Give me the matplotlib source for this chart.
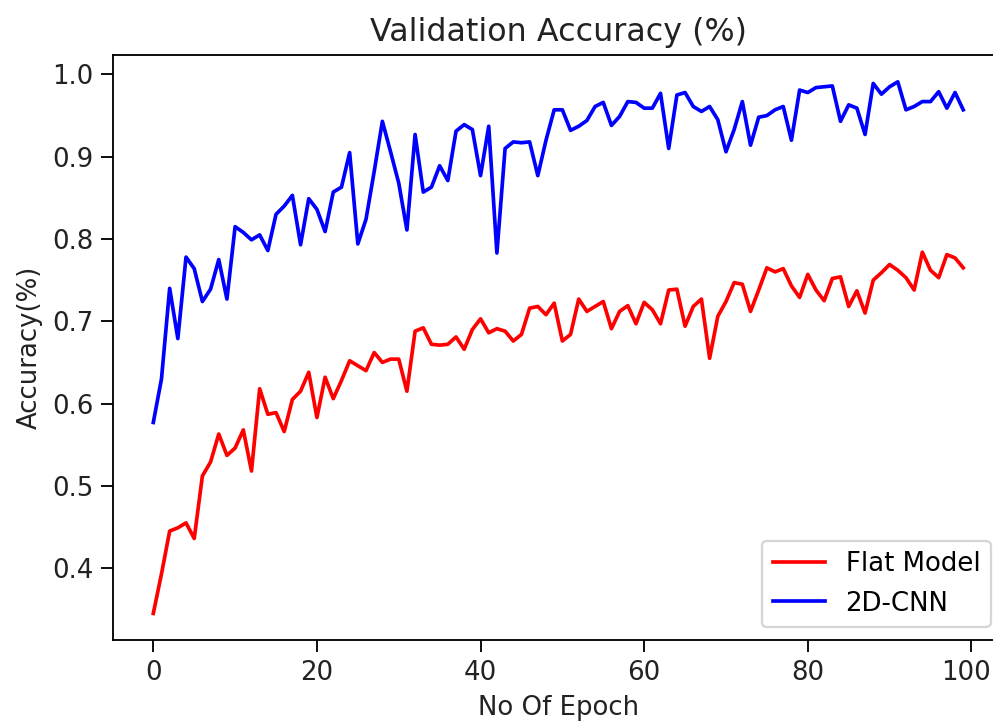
import numpy as np
import matplotlib
matplotlib.use("Agg")
import matplotlib.pyplot as plt
from matplotlib.transforms import ScaledTranslation

# validation accuracy per epoch
flat_acc = [0.345, 0.393, 0.445, 0.449, 0.455, 0.436, 0.512, 0.529, 0.563, 0.537,
            0.546, 0.568, 0.518, 0.618, 0.587, 0.589, 0.566, 0.605, 0.615, 0.638,
            0.583, 0.632, 0.606, 0.628, 0.652, 0.646, 0.640, 0.662, 0.650, 0.654,
            0.654, 0.615, 0.688, 0.692, 0.672, 0.671, 0.672, 0.681, 0.666, 0.690,
            0.703, 0.686, 0.691, 0.688, 0.676, 0.684, 0.716, 0.718, 0.708, 0.722,
            0.676, 0.684, 0.727, 0.712, 0.718, 0.724, 0.691, 0.712, 0.719, 0.697,
            0.723, 0.714, 0.697, 0.738, 0.739, 0.694, 0.718, 0.727, 0.655, 0.706,
            0.724, 0.747, 0.745, 0.712, 0.738, 0.765, 0.760, 0.764, 0.743, 0.729,
            0.757, 0.738, 0.725, 0.752, 0.754, 0.718, 0.737, 0.710, 0.750, 0.759,
            0.769, 0.762, 0.753, 0.738, 0.784, 0.762, 0.753, 0.781, 0.777, 0.765]

cnn_acc = [0.577, 0.630, 0.740, 0.679, 0.778, 0.764, 0.724, 0.739, 0.775, 0.727,
           0.815, 0.808, 0.799, 0.805, 0.786, 0.830, 0.840, 0.853, 0.793, 0.849,
           0.836, 0.809, 0.857, 0.863, 0.905, 0.794, 0.824, 0.882, 0.943, 0.906,
           0.868, 0.811, 0.927, 0.857, 0.863, 0.889, 0.871, 0.931, 0.939, 0.933,
           0.877, 0.937, 0.783, 0.910, 0.918, 0.917, 0.918, 0.877, 0.920, 0.957,
           0.957, 0.932, 0.937, 0.944, 0.961, 0.966, 0.938, 0.949, 0.967, 0.966,
           0.959, 0.959, 0.977, 0.910, 0.975, 0.978, 0.961, 0.955, 0.961, 0.945,
           0.906, 0.933, 0.967, 0.914, 0.948, 0.950, 0.957, 0.961, 0.920, 0.981,
           0.978, 0.984, 0.985, 0.986, 0.943, 0.963, 0.959, 0.927, 0.989, 0.976,
           0.985, 0.991, 0.957, 0.961, 0.967, 0.967, 0.979, 0.959, 0.978, 0.957]

xticks = [0, 20, 40, 60, 80, 100]

epochs = np.arange(len(flat_acc))

fig = plt.figure(figsize=(993 / 166, 726 / 166), dpi=166)
ax = fig.add_axes([0.1136, 0.1185, 0.8972, 0.8054])

ax.plot(epochs, flat_acc, color="red", label="Flat Model", lw=1.6)
ax.plot(epochs, cnn_acc, color="blue", label="2D-CNN", lw=1.6)

ax.set_title("Validation Accuracy (%)", fontsize=13.8, color="#222222")
ax.set_xlabel("No Of Epoch", fontsize=11.3, color="#222222")
ax.set_ylabel("Accuracy(%)", fontsize=11.3, color="#222222")
ax.set_xticks(xticks)
ax.tick_params(labelsize=11.3, length=5, labelcolor="#222222")
ax.legend(loc="lower right", fontsize=11.3)

# the last x label sits right at the figure edge, nudge it left a little
last = ax.get_xticklabels()[-1]
last.set_transform(last.get_transform() + ScaledTranslation(-5 / 166, 0, fig.dpi_scale_trans))

fig.savefig("out.png", dpi=166)
